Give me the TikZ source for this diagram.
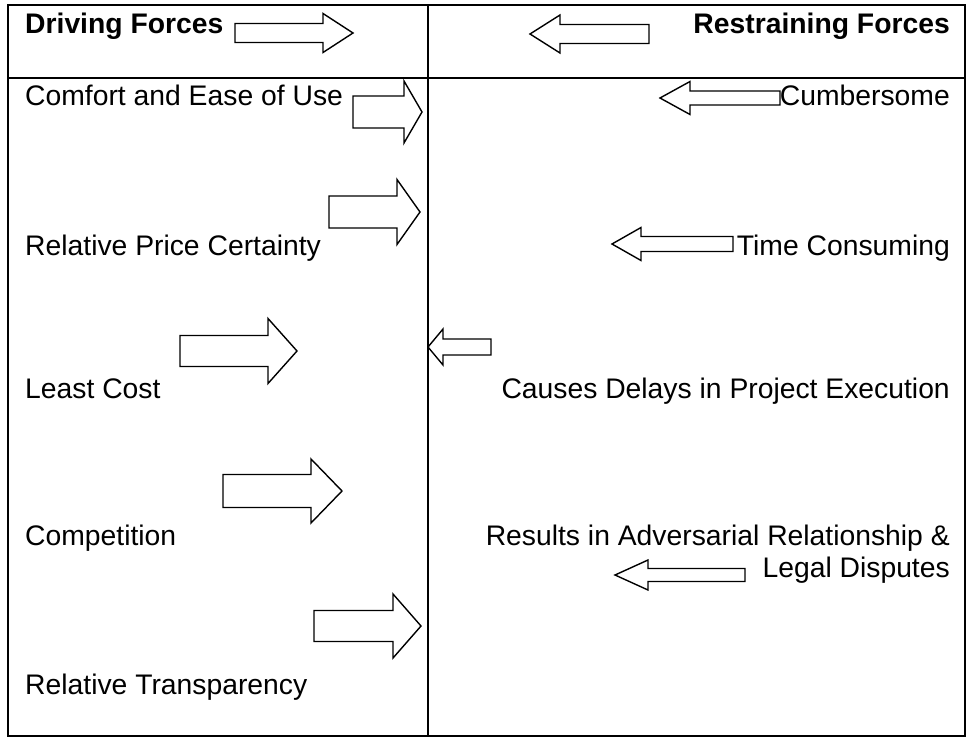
\documentclass[tikz,border=0pt]{standalone}
\usepackage{fontspec}
\setmainfont{Liberation Sans}
\begin{document}
\begin{tikzpicture}[x=1pt,y=-1pt,
  frame/.style={draw=black,line width=2pt},
  blockarrow/.style={draw=black,line width=1.4pt,fill=white,line join=miter},
  lbl/.style={inner sep=0pt,font=\fontsize{28.3}{34}\selectfont},
  lefttxt/.style={lbl,anchor=base west},
  righttxt/.style={lbl,anchor=base east}]
\useasboundingbox (0,0) rectangle (969,738);
% table frame
\draw[frame] (8,5) rectangle (965,736);
\draw[frame] (428,5) -- (428,736);
\draw[frame] (8,78) -- (965,78);
% right-pointing block arrow: tail, head base, tip, y centre, shaft half, head half
\newcommand{\rarr}[6]{\draw[blockarrow] (#1,#4-#5) -- (#2,#4-#5) -- (#2,#4-#6) -- (#3,#4) -- (#2,#4+#6) -- (#2,#4+#5) -- (#1,#4+#5) -- cycle;}
% headers
\node[lefttxt,font=\fontsize{28.3}{34}\selectfont\bfseries] (drv) at (25,34) {Driving Forces};
\node[righttxt,font=\fontsize{28.3}{34}\selectfont\bfseries] (rst) at (950,34) {Restraining Forces};
\rarr{235}{323}{353}{33}{9.5}{19.5}
\rarr{649}{560}{530}{34}{9.5}{19}
% driving forces
\node[lefttxt] (d1) at (25,106) {Comfort and Ease of Use};
\node[lefttxt] (d2) at (25,255) {Relative Price Certainty};
\node[lefttxt] (d3) at (25,398) {Least Cost};
\node[lefttxt] (d4) at (25,545) {Competition};
\node[lefttxt] (d5) at (25,694) {Relative Transparency};
\rarr{353}{404}{422}{112}{16}{31}
\rarr{329}{397}{420}{212}{16}{32.5}
\rarr{180}{268}{297}{351}{15.5}{32.5}
\rarr{223}{311}{342}{491}{16.5}{32}
\rarr{314}{393}{421}{626}{15.5}{32}
% restraining forces
\node[righttxt] (r1) at (950,106) {Cumbersome};
\node[righttxt] (r2) at (950,255) {Time Consuming};
\node[righttxt] (r3) at (950,398) {Causes Delays in Project Execution};
\node[righttxt] (r4) at (950,545) {Results in Adversarial Relationship \&};
\node[righttxt] (r5) at (950,577) {Legal Disputes};
\rarr{780}{690}{660}{98}{7}{16.5}
\rarr{733}{641}{612}{244}{7.5}{16.5}
\rarr{491}{443}{428}{347}{8}{18}
\rarr{745}{648}{615}{575}{6.5}{15}
\end{tikzpicture}
\end{document}
